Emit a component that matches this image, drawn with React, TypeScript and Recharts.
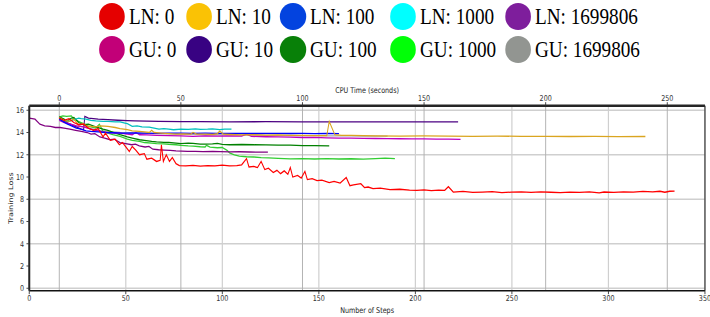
import { LineChart, Line, XAxis, YAxis, CartesianGrid, ReferenceLine } from 'recharts'

// CPU-time series: [seconds, loss]
const lnZero: [number, number][] = [
  [0, 15.3], [2, 15.1], [4, 15.25], [6, 14.9], [8, 14.7], [10, 14.75], [12, 14.4], [14, 14.2], [16, 14.35],
  [18, 13.6], [19, 13.95], [21, 13.3], [23, 13.4], [24.7, 12.9], [26, 13.1], [28.8, 12.3], [30, 12.75],
  [31.5, 12.4], [33, 12.0], [35, 12.1], [36, 11.6], [38, 11.7], [40, 11.4], [41.5, 11.5], [42, 12.9],
  [42.8, 11.4], [44, 12.0], [45.3, 11.4], [46.5, 11.75], [48, 11.2], [49.4, 11.03], [52, 11.0], [55, 11.05],
  [58, 10.98], [61, 11.02], [64, 11.0], [67, 11.06], [70, 11.0], [73, 11.02], [75, 11.1], [77, 11.65],
  [78, 10.9], [80, 10.95], [81.5, 10.85], [83, 11.4], [84.5, 10.67], [86, 10.8], [88, 10.4], [89.5, 10.6],
  [91, 10.3], [92.5, 10.55], [94, 10.25], [95, 10.85], [96, 10.0], [98, 10.15], [99.5, 9.9], [101, 10.5],
  [102, 9.77], [104, 9.85], [106, 9.67], [108, 9.72], [111, 9.5], [113, 9.6], [115.5, 9.45], [118, 9.95],
  [119.5, 9.22], [121, 9.3], [124, 9.4], [125.5, 9.05], [127, 9.1], [129, 8.95], [132, 9.0], [136, 8.86],
  [140, 8.9], [144, 8.82], [147, 8.8], [150, 8.85], [153, 8.78], [156, 8.82], [158.5, 8.8], [160, 9.13],
  [162, 8.65], [166, 8.7], [170, 8.62], [174, 8.65], [178, 8.68], [182, 8.6], [186, 8.64], [190, 8.66],
  [194, 8.62], [198, 8.67], [202, 8.63], [206, 8.6], [210, 8.64], [214, 8.62], [218, 8.66], [222, 8.58],
  [224, 8.65], [228, 8.62], [232, 8.66], [236, 8.64], [240, 8.7], [244, 8.66], [247, 8.72], [249, 8.63],
  [251, 8.72], [253, 8.74],
]

const lnTen: [number, number][] = [
  [0, 15.35], [2, 15.1], [4, 15.0], [6, 15.2], [8, 14.7], [10, 14.8], [11, 14.6], [13, 14.55], [15, 14.5],
  [17, 14.6], [20, 14.55], [23, 14.45], [25, 14.35], [28, 14.25], [30, 14.15], [33, 14.1], [35, 14.05],
  [37, 14.0], [38, 14.2], [39, 14.0], [42, 13.95], [45, 13.9], [48, 13.85], [51, 13.88], [54, 13.85],
  [55, 14.0], [56.5, 13.85], [60, 13.85], [63, 13.82], [65, 13.9], [66, 14.12], [67.5, 13.85], [70, 13.82],
  [75, 13.78], [80, 13.8], [85, 13.76], [90, 13.78], [95, 13.75], [100, 13.74], [105, 13.72], [110, 13.72],
  [111, 15.0], [113.3, 13.8], [116, 13.75], [120, 13.74], [125, 13.72], [130, 13.7], [140, 13.68],
  [150, 13.7], [160, 13.67], [170, 13.66], [180, 13.68], [190, 13.65], [200, 13.66], [210, 13.64],
  [220, 13.65], [230, 13.63], [241, 13.64],
]

const lnHundred: [number, number][] = [
  [0, 15.2], [1.5, 15.0], [3, 14.8], [5, 14.6], [7, 14.4], [9, 14.3], [11, 14.15], [13, 14.1], [16, 14.05],
  [19, 14.0], [22, 13.98], [26, 13.95], [30, 13.97], [35, 13.95], [40, 13.93], [45, 13.95], [50, 13.94],
  [55, 13.92], [60, 13.94], [65, 13.93], [70, 13.92], [75, 13.93], [80, 13.91], [85, 13.93], [90, 13.92],
  [95, 13.91], [100, 13.92], [105, 13.9], [110, 13.92], [115, 13.9],
]

const lnThousand: [number, number][] = [
  [0, 15.3], [2, 15.1], [4, 15.0], [6, 15.15], [8, 15.3], [9, 15.25], [11, 15.2], [13, 15.1], [15, 15.05],
  [18, 15.0], [20, 15.0], [23, 14.95], [25, 14.95], [27, 14.85], [28, 14.8], [30, 14.55], [32, 14.6],
  [34, 14.5], [37, 14.48], [39, 14.4], [41, 14.3], [43, 14.35], [45, 14.3], [47, 14.25], [50, 14.3],
  [53, 14.28], [56, 14.32], [58, 14.28], [61, 14.3], [63, 14.33], [66, 14.26], [68, 14.3], [70.8, 14.3],
]

const guZero: [number, number][] = [
  [0, 15.1], [2, 14.9], [4, 14.8], [7, 14.6], [10, 14.5], [13, 14.3], [15, 14.2], [18, 14.05], [20, 14.0],
  [23, 13.95], [25, 13.95], [28, 13.85], [30, 13.8], [31.5, 14.0], [33, 13.8], [36, 13.78], [40, 13.75],
  [45, 13.72], [50, 13.7], [55, 13.65], [60, 13.7], [65, 13.68], [70, 13.7], [75, 13.68], [77, 13.85],
  [79, 13.65], [85, 13.62], [90, 13.6], [95, 13.58], [100, 13.55], [105, 13.56], [110, 13.52], [115, 13.5],
  [120, 13.5], [125, 13.48], [130, 13.46], [135, 13.45], [140, 13.44], [145, 13.43], [150, 13.42],
  [155, 13.41], [160, 13.4], [165, 13.38],
]

const guTen: [number, number][] = [
  [0, 15.3], [3, 14.9], [6, 14.6], [9, 14.3], [10, 14.25], [10.5, 15.45], [12, 15.3], [16, 15.2], [20, 15.15],
  [24, 15.1], [28, 15.06], [31, 15.04], [36, 15.02], [41, 15.0], [50, 14.98], [58, 14.97], [70, 14.96],
  [85, 14.97], [100, 14.95], [115, 14.96], [130, 14.95], [145, 14.96], [164, 14.95],
]

const guHundred: [number, number][] = [
  [0, 15.4], [2, 15.2], [3, 15.0], [5, 15.3], [6, 15.35], [8, 14.9], [10, 14.7], [12, 14.75], [15, 14.5],
  [18, 14.3], [20, 14.2], [23, 13.95], [25, 13.8], [28, 13.6], [30, 13.5], [33, 13.35], [35, 13.3],
  [38, 13.2], [40, 13.15], [43, 13.12], [45, 13.1], [48, 13.05], [50, 13.0], [53, 13.05], [55, 13.02],
  [58, 12.96], [60, 12.95], [63, 12.98], [65, 13.02], [67, 12.94], [70, 12.9], [75, 12.92], [80, 12.9],
  [85, 12.88], [90, 12.86], [95, 12.87], [100, 12.82], [105, 12.83], [111, 12.8],
]

const guThousand: [number, number][] = [
  [0, 15.4], [1.5, 15.5], [3, 15.45], [5, 15.5], [6, 15.2], [7, 15.1], [9, 14.9], [10, 14.8], [12, 14.55],
  [13, 14.5], [15, 14.4], [16.5, 14.75], [18, 14.1], [20, 13.95], [22, 13.8], [25, 13.65], [28, 13.4],
  [30, 13.3], [33, 13.2], [35, 13.1], [38, 13.05], [40, 13.0], [43, 12.98], [45, 12.93], [48, 12.9],
  [50, 12.85], [53, 12.8], [55, 12.78], [58, 12.72], [60, 12.7], [60.5, 12.85], [62, 12.68], [65, 12.63],
  [67, 12.65], [69, 12.4], [70, 12.17], [72, 12.0], [74, 11.87], [77, 11.82], [80, 11.8], [83, 11.75],
  [86, 11.72], [90, 11.68], [95, 11.63], [100, 11.65], [105, 11.62], [110, 11.66], [115, 11.62],
  [120, 11.64], [125, 11.6], [130, 11.66], [134, 11.7], [138, 11.65],
]

const guFull: [number, number][] = [
  [0, 15.2], [2, 15.0], [4, 14.8], [7, 14.6], [10, 14.5], [13, 14.35], [16, 14.2], [20, 14.1], [25, 14.0],
  [30, 13.95], [35, 13.92], [40, 13.9], [45, 13.88], [50, 13.85], [55, 13.83], [60, 13.8], [65, 13.8],
  [70, 13.78], [75, 13.77], [80, 13.76], [85, 13.75], [90, 13.74], [95, 13.73], [100, 13.72], [105, 13.72],
  [110, 13.7], [115, 13.7], [120, 13.69], [125, 13.68], [130, 13.67], [135, 13.67],
]

// step series: [step, loss]
const lnFull: [number, number][] = [
  [0, 15.3], [3, 15.2], [5.5, 14.75], [8, 14.6], [11, 14.55], [13.5, 14.45], [16, 14.45], [18, 14.4],
  [21, 14.3], [24, 14.2], [27, 14.1], [30, 14.0], [32, 13.85], [34, 13.9], [36.6, 13.6], [39, 13.5],
  [42, 13.35], [44, 13.4], [47, 13.1], [50, 13.0], [53, 12.9], [55, 12.95], [57, 12.8], [60, 12.7],
  [62, 12.75], [64, 12.5], [67, 12.45], [70, 12.42], [73, 12.4], [76, 12.35], [79, 12.33], [82, 12.3],
  [86, 12.3], [90, 12.28], [95, 12.3], [99, 12.28], [104, 12.26], [109, 12.27], [114, 12.25], [119, 12.24],
  [123.6, 12.23],
]

const stepTicks = [0, 50, 100, 150, 200, 250, 300, 350]
const cpuTicks = [0, 50, 100, 150, 200, 250]
const lossTicks = [0, 2, 4, 6, 8, 10, 12, 14, 16]

const series = [
  { name: 'LN: 0', data: lnZero, axis: 'cpu', dot: '#e50000', stroke: '#ff0000' },
  { name: 'LN: 10', data: lnTen, axis: 'cpu', dot: '#fac205', stroke: '#daa520' },
  { name: 'LN: 100', data: lnHundred, axis: 'cpu', dot: '#0343df', stroke: '#0000ff' },
  { name: 'LN: 1000', data: lnThousand, axis: 'cpu', dot: '#00ffff', stroke: '#00bfbf' },
  { name: 'LN: 1699806', data: lnFull, axis: 'steps', dot: '#7e1e9c', stroke: '#800080' },
  { name: 'GU: 0', data: guZero, axis: 'cpu', dot: '#c20078', stroke: '#bf00bf' },
  { name: 'GU: 10', data: guTen, axis: 'cpu', dot: '#380282', stroke: '#4b0082' },
  { name: 'GU: 100', data: guHundred, axis: 'cpu', dot: '#088008', stroke: '#008000' },
  { name: 'GU: 1000', data: guThousand, axis: 'cpu', dot: '#01ff07', stroke: '#32cd32' },
  { name: 'GU: 1699806', data: guFull, axis: 'cpu', dot: '#929591', stroke: '#a9a9a9' },
]

// the picture is horizontally squeezed, so draw wide and scale down
const S = 710 / 888
const W = 888
const H = 317
const legendCols = [108.8, 117.6, 137.6, 143.8, 150]

const tickStyle = { fill: '#333', fontSize: 8, fontFamily: 'DejaVu Sans' }

const YLabel = (props: any) => {
  const vb = props.viewBox
  const x = vb.x + 5
  const y = vb.y + vb.height / 2
  return (
    <text
      x={x}
      y={y}
      transform={`rotate(-90 ${x} ${y})`}
      textAnchor="middle"
      dominantBaseline="central"
      fontSize={8}
      fontFamily="DejaVu Sans"
      fill="#222"
    >
      Training Loss
    </text>
  )
}

export default function App() {
  return (
    <div style={{ position: 'absolute', left: 0, top: 0, width: 710, height: H, overflow: 'hidden', background: '#fff' }}>
      <div style={{ position: 'relative', width: W, height: H, transform: `scaleX(${S})`, transformOrigin: '0 0' }}>
        <div
          style={{
            position: 'absolute',
            left: 123.8,
            top: 3,
            display: 'grid',
            gridTemplateColumns: legendCols.map((w) => `${w}px`).join(' '),
            rowGap: 6.5,
            zIndex: 1,
          }}
        >
          {series.map((s) => (
            <div key={s.name} style={{ display: 'flex', alignItems: 'center', height: 26.5 }}>
              <span style={{ width: 32.5, height: 26.5, borderRadius: '50%', background: s.dot, flex: 'none' }} />
              <span
                style={{
                  marginLeft: 5,
                  fontFamily: '"Liberation Serif", "Times New Roman", serif',
                  fontSize: 24,
                  lineHeight: '26px',
                  whiteSpace: 'nowrap',
                  color: '#000',
                }}
              >
                {s.name}
              </span>
            </div>
          ))}
        </div>
        <LineChart width={W} height={H} margin={{ top: 86, right: 6.3, bottom: 0, left: 8 }}>
          <CartesianGrid xAxisId="steps" stroke="#cfcfcf" strokeWidth={1.5} verticalValues={stepTicks} horizontalValues={lossTicks} />
          <CartesianGrid xAxisId="cpu" stroke="#b0b0b0" strokeWidth={1.2} horizontal={false} verticalValues={cpuTicks} />
          <XAxis
            xAxisId="steps"
            dataKey="x"
            type="number"
            domain={[0, 350]}
            ticks={stepTicks}
            allowDataOverflow
            height={26.3}
            tick={tickStyle}
            tickSize={3.5}
            tickMargin={1}
            tickLine={{ stroke: '#333' }}
            axisLine={{ stroke: '#111', strokeWidth: 1.5 }}
            label={{ value: 'Number of Steps', position: 'insideBottom', offset: 4, fontSize: 8, fill: '#222', fontFamily: 'DejaVu Sans' }}
          />
          <XAxis
            xAxisId="cpu"
            orientation="top"
            dataKey="x"
            type="number"
            domain={[-12.34, 265.5]}
            ticks={cpuTicks}
            allowDataOverflow
            height={19.7}
            tick={tickStyle}
            tickSize={3.5}
            tickMargin={1}
            tickLine={{ stroke: '#333' }}
            axisLine={{ stroke: '#262626', strokeWidth: 2.5 }}
            label={{ value: 'CPU Time (seconds)', position: 'insideTop', offset: 1, fontSize: 8, fill: '#222', fontFamily: 'DejaVu Sans' }}
          />
          <YAxis
            type="number"
            domain={[-0.22, 16.41]}
            ticks={lossTicks}
            allowDataOverflow
            width={28.6}
            tick={tickStyle}
            tickSize={3.5}
            tickMargin={3}
            tickLine={{ stroke: '#333' }}
            axisLine={{ stroke: '#262626', strokeWidth: 2.5 }}
            label={<YLabel />}
          />
          <ReferenceLine xAxisId="steps" x={350} stroke="#111" strokeWidth={1.2} />
          {[...series].reverse().map((s) => (
            <Line
              key={s.name}
              xAxisId={s.axis}
              data={s.data.map(([x, v]) => ({ x, v }))}
              dataKey="v"
              name={s.name}
              stroke={s.stroke}
              strokeWidth={1.3}
              dot={false}
              type="linear"
              isAnimationActive={false}
            />
          ))}
        </LineChart>
      </div>
    </div>
  )
}
